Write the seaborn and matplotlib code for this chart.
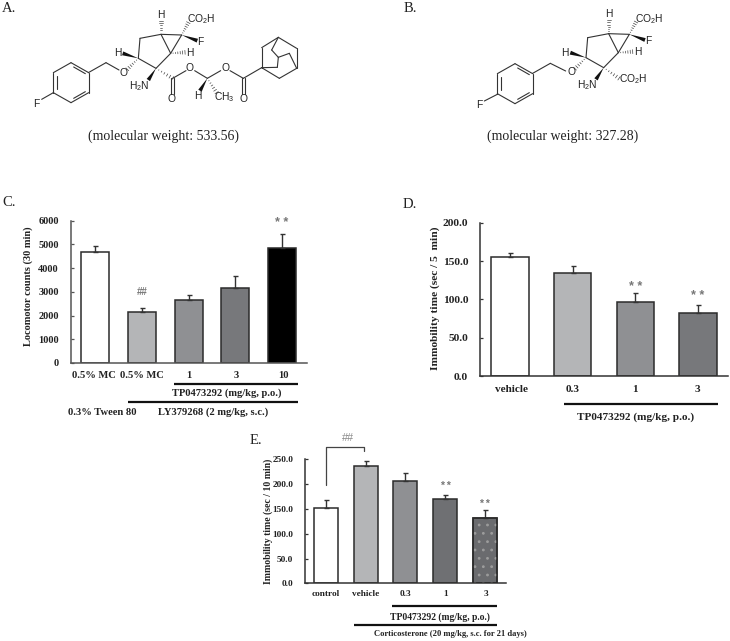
import pandas as pd
import seaborn as sns
import matplotlib.pyplot as plt
from matplotlib.patches import Polygon

W, H = 730, 641

# panel C
c_labels = ['0.5% MC', '0.5% MC', '1', '3', '10']
c_means = [4690, 2135, 2640, 3175, 4860]
c_errs = [225, 170, 225, 505, 560]
c_colors = ['#ffffff', '#b4b5b7', '#8f9093', '#77787b', '#000000']
c_ticks = [0, 1000, 2000, 3000, 4000, 5000, 6000]

# panel D
d_labels = ['vehicle', '0.3', '1', '3']
d_means = [154.8, 134.3, 97, 81.7]
d_errs = [5.2, 8.7, 10.8, 11.3]
d_colors = ['#ffffff', '#b4b5b7', '#8f9093', '#77787b']
d_ticks = [0, 50, 100, 150, 200]

# panel E
e_labels = ['control', 'vehicle', '0.3', '1', '3']
e_means = [151, 236, 205.6, 170, 131.7]
e_errs = [17, 10, 17.4, 8, 16.8]
e_colors = ['#ffffff', '#b4b5b7', '#8f9093', '#6f7073', '#6a6b6e']
e_ticks = [0, 50, 100, 150, 200, 250]

sns.set_style('ticks')
plt.rcParams['font.family'] = ['Liberation Serif', 'DejaVu Serif']
plt.rcParams['mathtext.default'] = 'regular'
plt.rcParams['hatch.linewidth'] = 0.8

fig = plt.figure(figsize=(W / 100, H / 100), dpi=100)


def painel(box, labels, means, errs, colors, ticks, ymax, ylabel, fs, fmt, coord, lw=1.1, spine='#555555', fs_y=None):
    esq, topo, dir_, base = box
    ax = fig.add_axes([esq / W, 1 - base / H, (dir_ - esq) / W, (base - topo) / H])
    df = pd.DataFrame({'grupo': [str(i) for i in range(len(labels))], 'media': means})
    sns.barplot(df, x='grupo', y='media', hue='grupo', palette=colors, saturation=1, legend=False,
                dodge=False, width=0.6, edgecolor='#2b2b2b', linewidth=lw, errorbar=None, ax=ax)
    ax.errorbar(range(len(labels)), means, yerr=[[0] * len(errs), errs], fmt='none',
                ecolor='#333333', elinewidth=1.0, capsize=1.8, capthick=1.0, zorder=1)
    ax.set_ylim(0, ymax)
    ax.set_yticks(ticks)
    ax.set_yticklabels([fmt.format(t) for t in ticks], fontsize=fs, fontweight='bold', color='#222222')
    ax.set_xticks(range(len(labels)))
    ax.set_xticklabels([])
    ax.tick_params(axis='x', length=0)
    ax.tick_params(axis='y', direction='in', length=2.5, width=0.9, color=spine, pad=8.5)
    ax.set_xlabel('')
    ax.set_ylabel(ylabel, fontsize=fs_y or fs, fontweight='bold', color='#222222')
    ax.yaxis.set_label_coords(*coord)
    ax.patch.set_alpha(0)
    sns.despine(ax=ax)
    for s in ['left', 'bottom']:
        ax.spines[s].set_color(spine)
        ax.spines[s].set_linewidth(1.1)
    return ax


ax_c = painel((70.7, 220.7, 306.7, 363), c_labels, c_means, c_errs, c_colors, c_ticks, 6000,
              'Locomotor counts (30 min)', 7.5, '{:d}', (-0.16, 0.543))
ax_d = painel((480, 222.7, 728, 376), d_labels, d_means, d_errs, d_colors, d_ticks, 200,
              'Immobility time (sec / 5  min)', 8.2, '{:.1f}', (-0.162, 0.509), spine='#333333')
ax_e = painel((305, 459.3, 505.7, 583.3), e_labels, e_means, e_errs, e_colors, e_ticks, 250,
              'Immobility time (sec / 10 min)', 6.7, '{:.1f}', (-0.16, 0.497), spine='#333333', fs_y=7)

# last bar of E has a dotted fill, edge goes back on top of it
ax_e.bar([4], [e_means[4]], width=0.6, fill=False, hatch='..', edgecolor='#9c9c9c', linewidth=0, zorder=3)
ax_e.bar([4], [e_means[4]], width=0.6, fill=False, edgecolor='#2b2b2b', linewidth=1.1, zorder=4)


def marca(ax, x, y, s, fs):
    ax.text(x, y, s, ha='center', va='center', fontsize=fs, color='#777777', fontweight='bold', family='Liberation Sans')


marca(ax_c, 1, 3000, '##', 7)
marca(ax_c, 4, 5900, '* *', 9)
marca(ax_d, 2, 116, '* *', 9)
marca(ax_d, 3, 104, '* *', 9)
marca(ax_e, 3, 196, '* *', 7.5)
marca(ax_e, 4, 160, '* *', 7.5)

# overlay in pixel coordinates: labels under the bars, letters, molecules
ov = fig.add_axes([0, 0, 1, 1], zorder=5)
ov.set_xlim(0, W)
ov.set_ylim(H, 0)
ov.axis('off')
ov.patch.set_alpha(0)


def txt(x, y, s, fs, bold=True, ha='center', color='#222222'):
    ov.text(x, y, s, fontsize=fs, fontweight='bold' if bold else 'normal', ha=ha, va='center', color=color)


def barra(x0, x1, y, lw=1.6):
    ov.plot([x0, x1], [y, y], color='#111111', lw=lw, solid_capstyle='butt')


for x, s in zip([94, 141.5, 189, 236, 283], c_labels):
    txt(x, 376, s, 7.6)
barra(174, 298.3, 383.7)
txt(227, 392.7, 'TP0473292 (mg/kg, p.o.)', 7.6)
barra(128.3, 298.3, 401.7)
txt(102, 412.3, '0.3% Tween 80', 7.6)
txt(212.7, 412.3, 'LY379268 (2 mg/kg, s.c.)', 7.6)

for x, s in zip([511.3, 573, 635, 697], d_labels):
    txt(x, 389.7, s, 8.1)
barra(564.3, 717.7, 404.3)
txt(635.7, 417.3, 'TP0473292 (mg/kg, p.o.)', 8.1)

for x, s in zip([325.3, 365.3, 405.3, 445.7, 485.7], e_labels):
    txt(x, 594.3, s, 6.7)
barra(391.7, 497.3, 606.3)
txt(440, 616.7, 'TP0473292 (mg/kg, p.o.)', 6.9)
barra(354.3, 497.3, 624.7)
txt(374, 634.3, 'Corticosterone (20 mg/kg, s.c. for 21 days)', 6.1, ha='left')
ov.plot([326, 326, 364.3, 364.3], [485, 446.7, 446.7, 450.7], color='#444444', lw=0.9)
ov.text(348, 438, '##', fontsize=7.8, ha='center', va='center', color='#888888', family='Liberation Sans')

for x, y, s in [(2, 8, 'A.'), (404, 8, 'B.'), (2, 202, 'C.'), (403, 205, 'D.'), (250, 441, 'E.')]:
    txt(x, y, s, 10.5, bold=False, ha='left')
txt(164, 136, '(molecular weight: 533.56)', 10, bold=False)
txt(563, 136, '(molecular weight: 327.28)', 10, bold=False)


# molecules, coordinates read on a 3x crop of the picture
def liga(o, a, b):
    ov.plot([o[0] + a[0] / 3, o[0] + b[0] / 3], [o[1] + a[1] / 3, o[1] + b[1] / 3],
            color='#333333', lw=0.8, solid_capstyle='round')


def cadeia(o, pts):
    for a, b in zip(pts[:-1], pts[1:]):
        liga(o, a, b)


def cunha(o, a, b):
    dx, dy = (b[0] - a[0]), (b[1] - a[1])
    n = (dx * dx + dy * dy) ** 0.5
    px, py = -dy / n * 6, dx / n * 6
    pts = [(a[0], a[1]), (b[0] + px, b[1] + py), (b[0] - px, b[1] - py)]
    ov.add_patch(Polygon([(o[0] + x / 3, o[1] + y / 3) for x, y in pts], color='#111111', lw=0))


def tracos(o, a, b):
    dx, dy = (b[0] - a[0]), (b[1] - a[1])
    n = (dx * dx + dy * dy) ** 0.5
    for i in range(1, 7):
        f = i / 6
        px, py = -dy / n * 6 * f, dx / n * 6 * f
        mx, my = a[0] + dx * f, a[1] + dy * f
        ov.plot([o[0] + (mx + px) / 3, o[0] + (mx - px) / 3], [o[1] + (my + py) / 3, o[1] + (my - py) / 3],
                color='#444444', lw=0.5)


def atomo(o, x, y, s, fs=7.4):
    ov.text(o[0] + x / 3, o[1] + y / 3, s, fontsize=fs, ha='center', va='center', color='#222222',
            family='Liberation Sans')


def benzeno(o, cx, cy):
    v = [(cx, cy - 60), (cx + 53, cy - 30), (cx + 53, cy + 30), (cx, cy + 60), (cx - 53, cy + 30), (cx - 53, cy - 30),
         (cx, cy - 60)]
    cadeia(o, v)
    liga(o, (cx + 8, cy - 47), (cx + 43, cy - 27))
    liga(o, (cx + 43, cy + 27), (cx + 8, cy + 47))
    liga(o, (cx - 43, cy + 20), (cx - 43, cy - 20))


def nucleo(o, dx, dy):
    c0, c1, c2, c3, c4, c5 = [(x + dx, y + dy) for x, y in
                              [(415, 175), (420, 115), (483, 103), (545, 105), (512, 160), (468, 205)]]
    cadeia(o, [c0, c1, c2, c3, c4, c5, c0])
    liga(o, c2, c4)
    tracos(o, c2, (c2[0], 62 + dy))
    tracos(o, c3, (565 + dx, 68 + dy))
    cunha(o, c3, (592 + dx, 122 + dy))
    tracos(o, c4, (555 + dx, 157 + dy))
    cunha(o, c0, (368 + dx, 160 + dy))
    tracos(o, c0, (382 + dx, 208 + dy))
    cunha(o, c5, (445 + dx, 240 + dy))
    atomo(o, 482 + dx, 45 + dy, 'H')
    atomo(o, 605 + dx, 58 + dy, r'CO$_2$H')
    atomo(o, 602 + dx, 125 + dy, 'F')
    atomo(o, 570 + dx, 158 + dy, 'H')
    atomo(o, 352 + dx, 160 + dy, 'H')
    atomo(o, 370 + dx, 218 + dy, 'O')
    atomo(o, 418 + dx, 258 + dy, r'H$_2$N')
    return c5


# A
oa = (0, 0)
benzeno(oa, 213, 248)
liga(oa, (160, 278), (125, 298))
atomo(oa, 108, 312, 'F')
cadeia(oa, [(265, 218), (318, 188), (357, 210)])
c = nucleo(oa, 0, 0)
tracos(oa, c, (518, 235))
cadeia(oa, [(518, 235), (558, 212)])
liga(oa, (513, 235), (513, 282))
liga(oa, (522, 235), (522, 282))
atomo(oa, 516, 297, 'O')
atomo(oa, 570, 205, 'O')
liga(oa, (584, 212), (622, 235))
liga(oa, (622, 235), (662, 212))
atomo(oa, 677, 205, 'O')
cadeia(oa, [(690, 212), (730, 235), (785, 203)])
liga(oa, (725, 235), (725, 282))
liga(oa, (734, 235), (734, 282))
atomo(oa, 730, 297, 'O')
cunha(oa, (622, 235), (600, 272))
tracos(oa, (622, 235), (650, 278))
atomo(oa, 594, 288, 'H')
atomo(oa, 672, 292, r'CH$_3$')
cadeia(oa, [(785, 203), (785, 143), (835, 112), (890, 145), (890, 205), (838, 235), (785, 203)])
cadeia(oa, [(835, 112), (815, 150), (835, 172), (832, 202), (785, 203)])
cadeia(oa, [(835, 172), (868, 160), (890, 205)])

# B
ob = (365, 0)
benzeno(ob, 450, 251)
liga(ob, (397, 283), (358, 303))
atomo(ob, 342, 316, 'F')
cadeia(ob, [(503, 220), (556, 190), (602, 213)])
c = nucleo(ob, 248, -2)
tracos(ob, c, (762, 235))
atomo(ob, 805, 237, r'CO$_2$H')

fig.savefig('out.png', dpi=100)
